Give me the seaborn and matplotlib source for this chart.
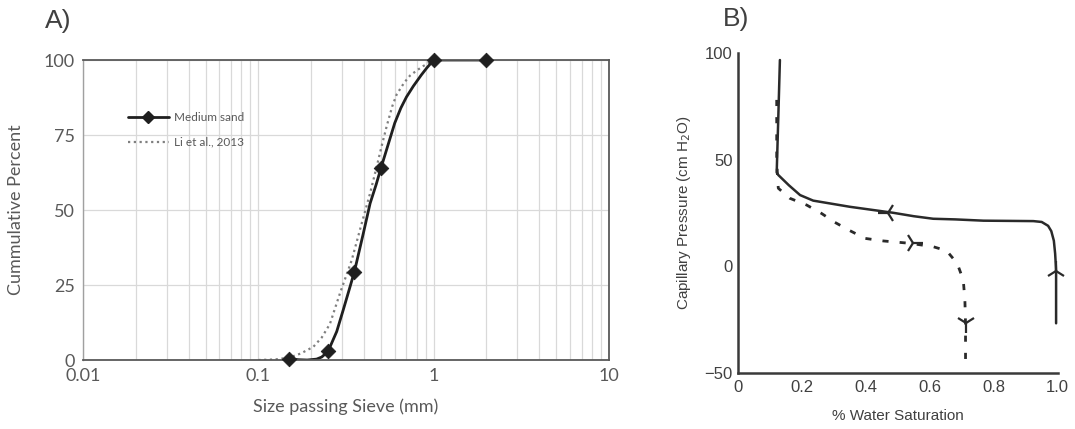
import numpy as np
import pandas as pd
import matplotlib
matplotlib.use("Agg")
import matplotlib.pyplot as plt
from matplotlib.lines import Line2D
from matplotlib.ticker import FixedLocator, NullFormatter
import seaborn as sns

# ---------------- Panel A data ----------------
sieve_size = [0.15, 0.25, 0.353, 0.50, 1.0, 2.0]
sieve_pct = [0.4, 2.9, 29.4, 63.9, 100, 100]
# smooth curve of medium sand
sand_curve_x = [0.15, 0.17, 0.19, 0.215, 0.23, 0.25, 0.28, 0.305, 0.33, 0.353, 0.397, 0.434,
                0.47, 0.50, 0.55, 0.60, 0.65, 0.70, 0.766, 0.85, 0.912, 1.0, 2.0]
sand_curve_y = [0.4, 0.1, 0.0, 0.3, 1.0, 2.9, 9.5, 16.7, 23.5, 29.4, 42.2, 52.2,
                58.5, 63.9, 71.8, 79.0, 84.0, 87.7, 91.3, 95.0, 97.3, 100, 100]
# Li et al., 2013 (dotted)
li_x = [0.1, 0.125, 0.15, 0.175, 0.206, 0.23, 0.256, 0.292, 0.341, 0.389, 0.434, 0.473,
        0.506, 0.54, 0.58, 0.615, 0.68, 0.733, 0.80, 0.873, 0.977, 1.0]
li_y = [0.0, 0.2, 0.8, 2.2, 4.4, 7.5, 12.0, 22.2, 33.3, 45.6, 55.6, 64.4,
        71.5, 78.0, 84.5, 88.5, 92.5, 94.8, 96.5, 98.0, 99.6, 100]
xticks_a = [0.01, 0.1, 1, 10]
xtick_labels_a = ["0.01", "0.1", "1", "10"]
yticks_a = [0, 25, 50, 75, 100]

# ---------------- Panel B data ----------------
drain_s = [0.995, 0.995, 0.994, 0.992, 0.988, 0.98, 0.97, 0.95, 0.924, 0.85, 0.768, 0.68,
           0.611, 0.55, 0.486, 0.351, 0.236, 0.195, 0.16, 0.127, 0.122, 0.127, 0.132]
drain_p = [-26.7, -2.0, 1.0, 6.0, 12.0, 16.5, 19.0, 20.8, 21.2, 21.3, 21.4, 22.0,
           22.3, 23.5, 25.1, 27.9, 30.8, 33.4, 38.0, 42.8, 44.0, 70.0, 96.7]
imb_s = [0.122, 0.122, 0.125, 0.127, 0.163, 0.216, 0.262, 0.304, 0.351, 0.398, 0.455, 0.538,
         0.611, 0.653, 0.686, 0.705, 0.710, 0.712, 0.712, 0.712]
imb_p = [78.0, 51.0, 40.0, 36.6, 31.9, 28.7, 24.8, 20.6, 16.7, 13.1, 11.9, 10.8,
         9.2, 7.3, 1.4, -6.4, -15.8, -26.7, -42.4, -45.5]
arrow_s = [0.471, 0.995, 0.549, 0.712]
arrow_p = [25.1, -2.0, 10.8, -26.5]
arrow_marker = ["3", "2", "4", "1"]

sns.set_style("white")

fig = plt.figure(figsize=(10.75, 4.29), dpi=100)
axA = fig.add_axes([0.0772, 0.1608, 0.4893, 0.6993])
axB = fig.add_axes([0.6862, 0.1305, 0.2977, 0.746])

greyA = "#595959"
fontA = "Lato"

# ---- Panel A ----
axA.set_xscale("log")
axA.set_xlim(0.01, 10)
axA.set_ylim(0, 100)
axA.xaxis.set_major_locator(FixedLocator(xticks_a))
axA.set_xticklabels(xtick_labels_a)
minor = [m * 10.0 ** e for e in (-2, -1, 0) for m in range(2, 10)]
axA.xaxis.set_minor_locator(FixedLocator(minor))
axA.xaxis.set_minor_formatter(NullFormatter())
axA.set_yticks(yticks_a)
axA.grid(True, which="both", axis="x", color="#d9d9d9", lw=0.9)
axA.grid(True, which="major", axis="y", color="#d9d9d9", lw=0.9)
axA.set_axisbelow(True)

dfl = pd.DataFrame({"x": li_x, "y": li_y})
sns.lineplot(data=dfl, x="x", y="y", ax=axA, color="#7f7f7f", lw=1.6, ls=(0, (1, 1.6)),
             sort=False, estimator=None)
dfs = pd.DataFrame({"x": sand_curve_x, "y": sand_curve_y})
sns.lineplot(data=dfs, x="x", y="y", ax=axA, color="#1f1f1f", lw=2.0, sort=False, estimator=None)
dfm = pd.DataFrame({"x": sieve_size, "y": sieve_pct})
sns.scatterplot(data=dfm, x="x", y="y", ax=axA, marker="D", s=55, color="#1f1f1f",
                edgecolor="#1f1f1f", zorder=5, clip_on=False)

for sp in axA.spines.values():
    sp.set_visible(True)
    sp.set_color(greyA)
    sp.set_linewidth(1.3)
axA.spines["left"].set_color("#a0a0a0")
axA.spines["left"].set_linewidth(1.0)
axA.tick_params(axis="both", which="both", length=0, labelsize=13, colors=greyA, pad=6)
for lab in axA.get_xticklabels() + axA.get_yticklabels():
    lab.set_fontfamily(fontA)
axA.set_xlabel("Size passing Sieve (mm)", fontsize=13, color=greyA, family=fontA, labelpad=10)
axA.set_ylabel("Cummulative Percent", fontsize=13, color=greyA, family=fontA, labelpad=14)

handles = [Line2D([], [], color="#1f1f1f", lw=2.0, marker="D", ms=6),
           Line2D([], [], color="#7f7f7f", lw=1.6, ls=(0, (1, 1.6)))]
leg = axA.legend(handles, ["Medium sand", "Li et al., 2013"], loc="center left",
                 bbox_to_anchor=(0.085, 0.767), frameon=False, borderpad=0, borderaxespad=0,
                 handlelength=3.5, handletextpad=0.4, labelspacing=1.15, numpoints=1,
                 prop={"family": fontA, "size": 8.5})
for t in leg.get_texts():
    t.set_color(greyA)

fig.text(0.042, 0.952, "A)", fontsize=19, color="#404040", family="Liberation Sans", va="center")

# ---- Panel B ----
darkB = "#3a3a3a"
dfd = pd.DataFrame({"s": drain_s, "p": drain_p})
sns.lineplot(data=dfd, x="s", y="p", ax=axB, color="#2a2a2a", lw=1.8, sort=False, estimator=None)
dfi = pd.DataFrame({"s": imb_s, "p": imb_p})
sns.lineplot(data=dfi, x="s", y="p", ax=axB, color="#2a2a2a", lw=2.0, ls=(0, (2.2, 4.0)),
             sort=False, estimator=None)
for s_, p_, m_ in zip(arrow_s, arrow_p, arrow_marker):
    axB.plot([s_], [p_], marker=m_, ms=15, mew=1.6, color="#2a2a2a", ls="none", clip_on=False)

axB.set_xlim(0, 1.0)
axB.set_ylim(-50, 100)
axB.set_xticks([0, 0.2, 0.4, 0.6, 0.8, 1.0])
axB.set_xticklabels(["0", "0.2", "0.4", "0.6", "0.8", "1.0"])
axB.set_xticks(np.arange(0, 1.0001, 0.05), minor=True)
axB.set_yticks([-50, 0, 50, 100])
axB.set_yticks(np.arange(-50, 100.1, 10), minor=True)
sns.despine(ax=axB)
for k in ("left", "bottom"):
    axB.spines[k].set_color(darkB)
    axB.spines[k].set_linewidth(1.8)
axB.tick_params(axis="both", which="both", direction="in", length=3, width=1, color=darkB,
                labelsize=12, labelcolor="#404040")
axB.tick_params(axis="x", which="major", pad=5)
for lab in axB.get_xticklabels() + axB.get_yticklabels():
    lab.set_fontfamily("Liberation Sans")
axB.set_xlabel("% Water Saturation", fontsize=11, color="#404040", family="Liberation Sans", labelpad=10)
axB.set_ylabel("Capillary Pressure (cm H$_2$O)", fontsize=11, color="#404040",
               family="Liberation Sans", labelpad=8)

fig.text(0.672, 0.955, "B)", fontsize=19, color="#404040", family="Liberation Sans", va="center")

fig.savefig("out.png", dpi=100)
